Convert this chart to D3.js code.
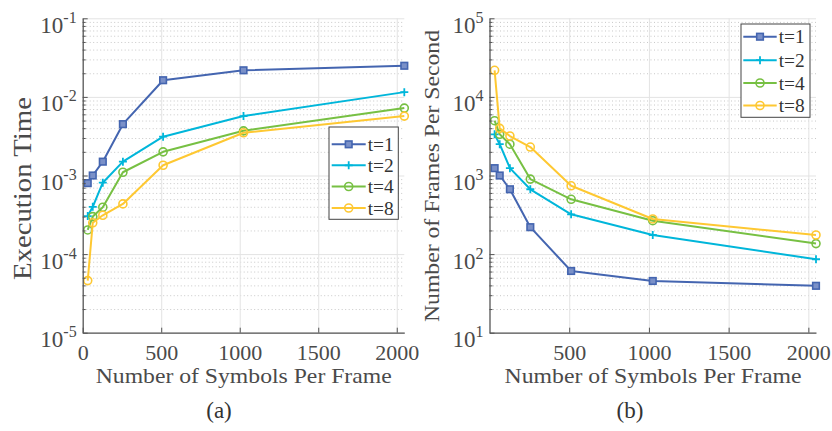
<!DOCTYPE html>
<html>
<head>
<meta charset="utf-8">
<script src="https://cdn.jsdelivr.net/npm/d3@7"></script>
<style>
  html, body { margin: 0; padding: 0; background: #fff; }
  svg { display: block; font-family: "Liberation Serif", "Times New Roman", serif; }
</style>
</head>
<body>
<svg id="chart" width="832" height="431"></svg>
<script>
// Frame sizes (symbols per frame)
const symbols = [32, 64, 128, 256, 512, 1024, 2048];
const seriesNames = ["t=1", "t=2", "t=4", "t=8"];

// (a) execution time per frame
const execT1 = [8.0e-4, 1.0e-3, 1.5e-3, 4.5e-3, 1.63e-2, 2.18e-2, 2.49e-2];
const execT2 = [3.05e-4, 4.0e-4, 8.1e-4, 1.5e-3, 3.12e-3, 5.7e-3, 1.15e-2];
const execT4 = [2.03e-4, 3.0e-4, 3.95e-4, 1.1e-3, 2.0e-3, 3.7e-3, 7.2e-3];
const execT8 = [4.6e-5, 2.5e-4, 3.12e-4, 4.35e-4, 1.35e-3, 3.5e-3, 5.7e-3];

// (b) frames per second
const fpsT1 = [1240, 1000, 668, 220, 61, 45.5, 39.5];
const fpsT2 = [3340, 2500, 1240, 668, 321, 175, 86];
const fpsT4 = [4980, 3340, 2500, 900, 498, 266, 136];
const fpsT8 = [21800, 3980, 3180, 2300, 740, 280, 175];

// tick labels
const xTicksA = [0, 500, 1000, 1500, 2000];
const xTicksB = [500, 1000, 1500, 2000];
const yExpA = [-5, -4, -3, -2, -1];
const yExpB = [1, 2, 3, 4, 5];

const colors = ["#4465b0", "#00b6da", "#77c043", "#fec832"];
const markers = ["square", "plus", "circle", "circle"];
const textColor = "#4a4a4a";
const axisColor = "#555";
const serif = "Liberation Serif";

const svg = d3.select("#chart");

function minorValues(lo, hi) {
  const out = [];
  for (let e = lo; e < hi; e++) for (let m = 2; m <= 9; m++) out.push(m * Math.pow(10, e));
  return out;
}

function drawMarker(g, kind, cx, cy, color) {
  if (kind === "square") {
    g.append("rect").attr("x", cx - 3.3).attr("y", cy - 3.3).attr("width", 6.6).attr("height", 6.6)
      .attr("fill", "#7a90c8").attr("stroke", color).attr("stroke-width", 1.6);
  } else if (kind === "plus") {
    g.append("path").attr("d", `M${cx - 4},${cy}H${cx + 4}M${cx},${cy - 4}V${cy + 4}`)
      .attr("stroke", color).attr("stroke-width", 1.8).attr("fill", "none");
  } else {
    g.append("circle").attr("cx", cx).attr("cy", cy).attr("r", 4)
      .attr("fill", "none").attr("stroke", color).attr("stroke-width", 1.6);
  }
}

function panel(opts) {
  const x = d3.scaleLinear().domain([0, 2048]).range([opts.left, opts.right]);
  const y = d3.scaleLog().domain([Math.pow(10, opts.exps[0]), Math.pow(10, opts.exps[opts.exps.length - 1])])
    .range([opts.bottom, opts.top]);
  const g = svg.append("g");
  const w = opts.right - opts.left, h = opts.bottom - opts.top;
  const majors = opts.exps.map(e => Math.pow(10, e));
  const minors = minorValues(opts.exps[0], opts.exps[opts.exps.length - 1]);

  // minor horizontal grid (dotted)
  g.append("g").attr("transform", `translate(${opts.left},0)`)
    .call(d3.axisLeft(y).tickValues(minors).tickSize(-w).tickFormat(""))
    .call(s => s.select(".domain").remove())
    .call(s => s.selectAll("line").attr("stroke", "#c8c8c8").attr("stroke-dasharray", "1,2.5"));
  // major grid
  g.append("g").attr("transform", `translate(${opts.left},0)`)
    .call(d3.axisLeft(y).tickValues(majors).tickSize(-w).tickFormat(""))
    .call(s => s.select(".domain").remove())
    .call(s => s.selectAll("line").attr("stroke", "#e3e3e3"));
  g.append("g").attr("transform", `translate(0,${opts.bottom})`)
    .call(d3.axisBottom(x).tickValues(xTicksA.filter(v => v > 0)).tickSize(-h).tickFormat(""))
    .call(s => s.select(".domain").remove())
    .call(s => s.selectAll("line").attr("stroke", "#e3e3e3"));

  // series
  const line = d3.line().x((d, i) => x(symbols[i])).y(d => y(d));
  opts.series.forEach((vals, k) => {
    g.append("path").datum(vals).attr("d", line).attr("fill", "none")
      .attr("stroke", colors[k]).attr("stroke-width", 2).attr("stroke-linejoin", "round");
    const mg = g.append("g");
    vals.forEach((v, i) => drawMarker(mg, markers[k], x(symbols[i]), y(v), colors[k]));
  });

  // y axis: major ticks with 10^n labels, minor ticks
  const yAxis = g.append("g").attr("transform", `translate(${opts.left},0)`)
    .call(d3.axisLeft(y).tickValues(majors).tickSizeInner(-5).tickSizeOuter(0).tickFormat(""))
    .attr("font-family", serif);
  yAxis.selectAll(".tick").each(function (d) {
    const t = d3.select(this).append("text").attr("fill", textColor).attr("x", -6).attr("y", 14)
      .attr("text-anchor", "end").attr("font-size", 23);
    t.append("tspan").text("10");
    t.append("tspan").attr("dy", -10).attr("font-size", 16).text(String(Math.round(Math.log10(d))));
  });
  const yMinor = g.append("g").attr("transform", `translate(${opts.left},0)`)
    .call(d3.axisLeft(y).tickValues(minors).tickSizeInner(-3).tickSizeOuter(0).tickFormat(""));
  yMinor.select(".domain").remove();

  // x axis
  const xAxis = g.append("g").attr("transform", `translate(0,${opts.bottom})`)
    .call(d3.axisBottom(x).tickValues(opts.xTicks).tickFormat(d3.format("d"))
      .tickSizeInner(-5).tickSizeOuter(0).tickPadding(12))
    .attr("font-family", serif);
  xAxis.selectAll("text").attr("font-size", 22).attr("fill", textColor);

  [yAxis, yMinor, xAxis].forEach(a => {
    a.selectAll(".tick line").attr("stroke", axisColor);
    a.selectAll(".domain").attr("stroke", axisColor).attr("stroke-width", 1.3);
  });

  // axis titles
  g.append("text").attr("x", opts.xLabel.cx).attr("y", 383).attr("text-anchor", "middle")
    .attr("font-size", 22).attr("fill", textColor)
    .attr("textLength", opts.xLabel.len).attr("lengthAdjust", "spacingAndGlyphs")
    .text("Number of Symbols Per Frame");
  g.append("text").attr("transform", `translate(${opts.yLabel.x},${opts.yLabel.cy}) rotate(-90)`)
    .attr("text-anchor", "middle").attr("font-size", opts.yLabel.size).attr("fill", textColor)
    .attr("textLength", opts.yLabel.len).attr("lengthAdjust", "spacingAndGlyphs")
    .text(opts.yLabel.text);
  g.append("text").attr("x", opts.caption.x).attr("y", 418).attr("text-anchor", "middle")
    .attr("font-size", 23).attr("fill", "#333").text(opts.caption.text);

  // legend
  const L = opts.legend;
  const lg = g.append("g");
  lg.append("rect").attr("x", L.x0).attr("y", L.y0).attr("width", L.x1 - L.x0).attr("height", L.y1 - L.y0)
    .attr("fill", "#fff").attr("stroke", "#444").attr("stroke-width", 1);
  seriesNames.forEach((name, k) => {
    const yy = L.rows[k];
    lg.append("line").attr("x1", L.lx0).attr("x2", L.lx1).attr("y1", yy).attr("y2", yy)
      .attr("stroke", colors[k]).attr("stroke-width", 2);
    drawMarker(lg, markers[k], (L.lx0 + L.lx1) / 2, yy, colors[k]);
    lg.append("text").attr("x", L.lx1 + 2).attr("y", yy + 6.5).attr("font-size", 19).attr("fill", "#333")
      .attr("textLength", 26).attr("lengthAdjust", "spacingAndGlyphs").text(name);
  });
}

panel({
  left: 82.7, right: 404.3, top: 18.3, bottom: 332.7, exps: yExpA, xTicks: xTicksA,
  series: [execT1, execT2, execT4, execT8],
  xLabel: { cx: 243.7, len: 296 },
  yLabel: { x: 31, cy: 188.5, len: 183, size: 26, text: "Execution Time" },
  caption: { x: 219, text: "(a)" },
  legend: { x0: 329, x1: 398.3, y0: 127, y1: 219.3, lx0: 331.7, lx1: 365.7, rows: [144.3, 165.3, 186.5, 208] }
});

panel({
  left: 489.5, right: 816, top: 18.3, bottom: 332.7, exps: yExpB, xTicks: xTicksB,
  series: [fpsT1, fpsT2, fpsT4, fpsT8],
  xLabel: { cx: 653, len: 297 },
  yLabel: { x: 439, cy: 176, len: 292, size: 22, text: "Number of Frames Per Second" },
  caption: { x: 630, text: "(b)" },
  legend: { x0: 741, x1: 810, y0: 24, y1: 117.3, lx0: 743.3, lx1: 776.7, rows: [36.7, 60.2, 83, 105.5] }
});
</script>
</body>
</html>
